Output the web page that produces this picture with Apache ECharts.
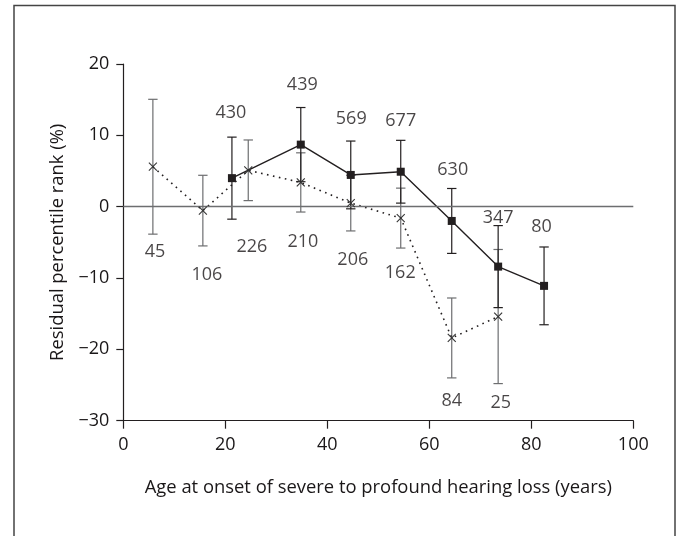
<!DOCTYPE html>
<html>
<head>
<meta charset="utf-8">
<script src="https://cdn.jsdelivr.net/npm/echarts@6/dist/echarts.min.js"></script>
<style>
html,body{margin:0;padding:0;background:#fff;}
#chart{width:678px;height:536px;}
</style>
</head>
<body>
<div id="chart"></div>
<script>
// Solid series (filled squares)
const solidAge = [21.3, 34.8, 44.6, 54.4, 64.4, 73.5, 82.5];
const solidMean = [4.0, 8.7, 4.45, 4.9, -2.0, -8.4, -11.1];
const solidErr = [5.75, 5.2, 4.75, 4.4, 4.55, 5.75, 5.45];
const solidN = ['430', '439', '569', '677', '630', '347', '80'];
const solidLabelX = [21.1, 35.1, 44.7, 54.4, 64.6, 73.5, 82.0];
const solidLabelY = [13.1, 17.1, 12.25, 12.05, 5.15, -1.55, -2.9];

// Dotted series (crosses)
const dotAge = [5.8, 15.6, 24.5, 34.8, 44.6, 54.4, 64.4, 73.5];
const dotMean = [5.6, -0.55, 5.1, 3.4, 0.5, -1.6, -18.4, -15.4];
const dotErr = [9.45, 4.95, 4.25, 4.15, 3.9, 4.2, 5.6, 9.4];
const dotN = ['45', '106', '226', '210', '206', '162', '84', '25'];
const dotLabelX = [6.2, 16.4, 25.2, 35.2, 45.0, 54.3, 64.4, 74.0];
const dotLabelY = [-6.3, -9.6, -5.6, -4.9, -7.5, -9.3, -27.2, -27.5];

const xTicks = [0, 20, 40, 60, 80, 100];

const FONT = '"Open Sans", "Noto Sans", sans-serif';
const TXT = '#1a1718';

function errSeries(ages, means, errs, color) {
  return {
    type: 'custom',
    z: 2,
    silent: true,
    encode: { x: 0, y: [1, 2] },
    data: ages.map((a, i) => [a, means[i] - errs[i], means[i] + errs[i]]),
    renderItem: function (params, api) {
      const x = api.value(0);
      const lo = api.coord([x, api.value(1)]);
      const hi = api.coord([x, api.value(2)]);
      const w = 4.7;
      const st = { stroke: color, lineWidth: 1.2 };
      return {
        type: 'group',
        children: [
          { type: 'line', shape: { x1: lo[0], y1: lo[1], x2: hi[0], y2: hi[1] }, style: st },
          { type: 'line', shape: { x1: lo[0] - w, y1: lo[1], x2: lo[0] + w, y2: lo[1] }, style: st },
          { type: 'line', shape: { x1: hi[0] - w, y1: hi[1], x2: hi[0] + w, y2: hi[1] }, style: st }
        ]
      };
    }
  };
}

function crossSeries(ages, means) {
  return {
    type: 'custom',
    z: 5,
    silent: true,
    data: ages.map((a, i) => [a, means[i]]),
    renderItem: function (params, api) {
      const p = api.coord([api.value(0), api.value(1)]);
      const s = 4;
      const st = { stroke: '#333', lineWidth: 1.1 };
      return {
        type: 'group',
        children: [
          { type: 'line', shape: { x1: p[0] - s, y1: p[1] - s, x2: p[0] + s, y2: p[1] + s }, style: st },
          { type: 'line', shape: { x1: p[0] - s, y1: p[1] + s, x2: p[0] + s, y2: p[1] - s }, style: st }
        ]
      };
    }
  };
}

function labelSeries(xs, ys, names) {
  return {
    type: 'scatter',
    z: 6,
    silent: true,
    symbolSize: 1,
    itemStyle: { color: 'rgba(0,0,0,0)' },
    data: xs.map((x, i) => ({ value: [x, ys[i]], name: names[i] })),
    label: {
      show: true,
      position: 'inside',
      formatter: p => p.name,
      fontFamily: FONT,
      fontSize: 18,
      color: TXT
    }
  };
}

const chart = echarts.init(document.getElementById('chart'), null, { renderer: 'canvas' });
chart.setOption({
  animation: false,
  backgroundColor: '#fff',
  graphic: [{
    type: 'rect',
    shape: { x: 14, y: 5.5, width: 661, height: 545 },
    style: { fill: 'none', stroke: '#444', lineWidth: 1.5 },
    z: 0,
    silent: true
  }],
  grid: { left: 123.3, right: 44.7, top: 64, bottom: 115.3, containLabel: false },
  xAxis: {
    type: 'value',
    min: 0, max: 100, interval: 20,
    name: 'Age at onset of severe to profound hearing loss (years)',
    nameLocation: 'middle',
    nameGap: 58,
    nameTextStyle: { fontFamily: FONT, fontSize: 18.4, color: TXT },
    axisLine: { show: true, onZero: false, lineStyle: { color: '#231f20', width: 1.2 } },
    axisTick: { show: true, length: 8, lineStyle: { color: '#231f20', width: 1.2 } },
    axisLabel: {
      fontFamily: FONT, fontSize: 18, color: TXT, margin: 15,
      customValues: xTicks
    },
    splitLine: { show: false }
  },
  yAxis: {
    type: 'value',
    min: -30, max: 20, interval: 10,
    name: 'Residual percentile rank (%)',
    nameLocation: 'middle',
    nameGap: 57,
    nameRotate: 90,
    nameTextStyle: { fontFamily: FONT, fontSize: 18.4, color: TXT },
    axisLine: { show: true, lineStyle: { color: '#231f20', width: 1.2 } },
    axisTick: { show: true, length: 7, lineStyle: { color: '#231f20', width: 1.2 } },
    axisLabel: {
      fontFamily: FONT, fontSize: 18, color: TXT, margin: 14,
      formatter: v => (v < 0 ? '\u2212' + Math.abs(v) : String(v))
    },
    splitLine: { show: false }
  },
  series: [
    errSeries(dotAge, dotMean, dotErr, '#6d6e70'),
    errSeries(solidAge, solidMean, solidErr, '#231f20'),
    {
      type: 'line',
      z: 3,
      silent: true,
      data: dotAge.map((a, i) => [a, dotMean[i]]),
      showSymbol: false,
      symbol: 'none',
      lineStyle: { color: '#231f20', width: 1.6, type: [1.6, 4.5] },
      markLine: {
        silent: true,
        symbol: 'none',
        label: { show: false },
        lineStyle: { color: '#6d6e70', width: 1.4, type: 'solid' },
        data: [{ yAxis: 0 }]
      }
    },
    crossSeries(dotAge, dotMean),
    {
      type: 'line',
      z: 4,
      silent: true,
      data: solidAge.map((a, i) => [a, solidMean[i]]),
      symbol: 'rect',
      symbolSize: 8,
      itemStyle: { color: '#231f20' },
      lineStyle: { color: '#231f20', width: 1.4 }
    },
    labelSeries(solidLabelX, solidLabelY, solidN),
    labelSeries(dotLabelX, dotLabelY, dotN)
  ]
});
</script>
</body>
</html>
